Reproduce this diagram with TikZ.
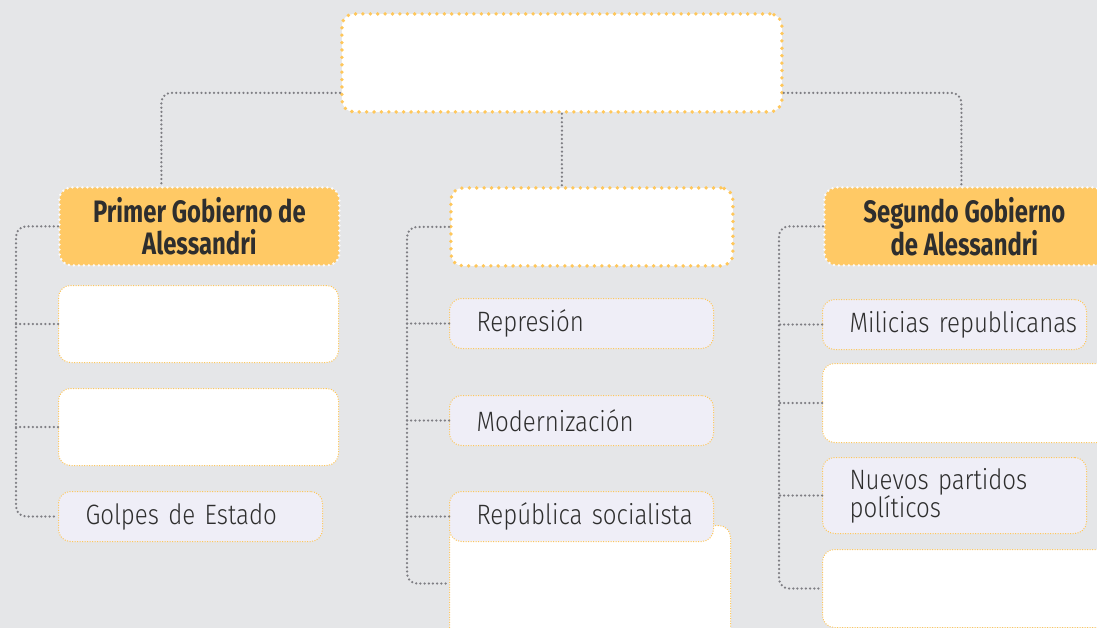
\documentclass[tikz,border=0pt]{standalone}
\usepackage{fontspec}
\setmainfont{Fira Sans}
\newfontfamily\lightf[FakeStretch=0.86]{Fira Sans Light}
\newfontfamily\boldf[FakeStretch=0.77]{Fira Sans}
\newcommand\itemfnt{\lightf\fontsize{28}{28}\selectfont\spaceskip 5pt\relax}
\definecolor{bg}{HTML}{E5E6E8}
\definecolor{orng}{HTML}{FFC965}
\definecolor{lav}{HTML}{EFEEF7}
\definecolor{dotor}{HTML}{FFC75A}
\definecolor{conng}{HTML}{7E7E83}
\definecolor{txt}{HTML}{2E2E2E}
\begin{document}
\begin{tikzpicture}[x=1pt,y=-1pt,
 conn/.style={draw=conng, line width=2.5pt, dash pattern=on 0pt off 4.2pt, line cap=round, rounded corners=10pt},
 bigbox/.style={fill=white, draw=dotor, line width=3.8pt, dash pattern=on 0pt off 7.4pt, line cap=round, rounded corners=12pt, anchor=north west, inner sep=0pt},
 headbox/.style={fill=orng, draw=white!85!bg, line width=2.8pt, dash pattern=on 0pt off 5pt, line cap=round, rounded corners=12pt, anchor=north west, inner sep=0pt, font=\boldf\bfseries\fontsize{31}{32}\selectfont, text=txt, align=center},
 ans/.style={fill=white, draw=dotor, line width=1pt, dash pattern=on 1pt off 1.5pt, rounded corners=12pt, anchor=north west, inner sep=0pt},
 item/.style={fill=lav, draw=dotor, line width=1pt, dash pattern=on 1pt off 1.5pt, rounded corners=12pt, anchor=north west, inner xsep=27pt, inner ysep=0pt, text width=210pt, minimum height=50pt, align=left, font=\itemfnt, text=txt},
]
\useasboundingbox (0,0) rectangle (1097,628);
\fill[bg] (0,0) rectangle (1097,628);
\clip (0,0) rectangle (1097,628);

% top level
\node[bigbox, minimum width=440pt, minimum height=98pt] (top) at (340,12) {};
\node[headbox, minimum width=280pt, minimum height=78pt] (prim) at (58,186) {Primer Gobierno de\\Alessandri};
\node[bigbox, minimum width=282pt, minimum height=78pt] (mid) at (449,186) {};
\node[headbox, minimum width=280pt, minimum height=78pt] (seg) at (823,186) {Segundo Gobierno\\de Alessandri};

% left column
\node[ans, minimum width=280pt, minimum height=77pt] (l1) at (58,285) {};
\node[ans, minimum width=280pt, minimum height=77pt] (l2) at (58,388) {};
\node[item] (gol) at (58,491) {\mbox{Golpes de Estado}};

% middle column
\node[ans, minimum width=281pt, minimum height=116pt] (m4) at (449,525) {};
\node[item] (m1) at (449,298) {Represión};
\node[item] (m2) at (449,395) {Modernización};
\node[item] (m3) at (449,491) {\mbox{República socialista}};

% right column
\node[item] (r1) at (822,299) {\mbox{Milicias republicanas}};
\node[ans, minimum width=290pt, minimum height=79pt] (r2) at (822,363) {};
\node[item, minimum height=76pt] (r3) at (822,457) {Nuevos partidos\\políticos};
\node[ans, minimum width=290pt, minimum height=78pt] (r4) at (822,549) {};

% connectors
\draw[conn] ([yshift=-30pt]top.west) -| ([xshift=-38pt]prim.north);
\draw[conn] ([yshift=-30pt]top.east) -| ([xshift=-3pt]seg.north);
\draw[conn] (top.south) -- (top.south |- mid.north);

\draw[conn] (prim.west) -| ([xshift=-42pt]gol.west) -- (gol.west);
\draw[conn] (l1.west) -- ([xshift=-42pt]l1.west);
\draw[conn] (l2.west) -- ([xshift=-42pt]l2.west);

\draw[conn] (mid.west) -| ([xshift=-42pt]m4.west) -- (m4.west);
\draw[conn] (m1.west) -- ([xshift=-42pt]m1.west);
\draw[conn] (m2.west) -- ([xshift=-42pt]m2.west);
\draw[conn] (m3.west) -- ([xshift=-42pt]m3.west);

\draw[conn] (seg.west) -| ([xshift=-43pt]r4.west) -- (r4.west);
\draw[conn] (r1.west) -- ([xshift=-43pt]r1.west);
\draw[conn] (r2.west) -- ([xshift=-43pt]r2.west);
\draw[conn] (r3.west) -- ([xshift=-43pt]r3.west);
\end{tikzpicture}
\end{document}
